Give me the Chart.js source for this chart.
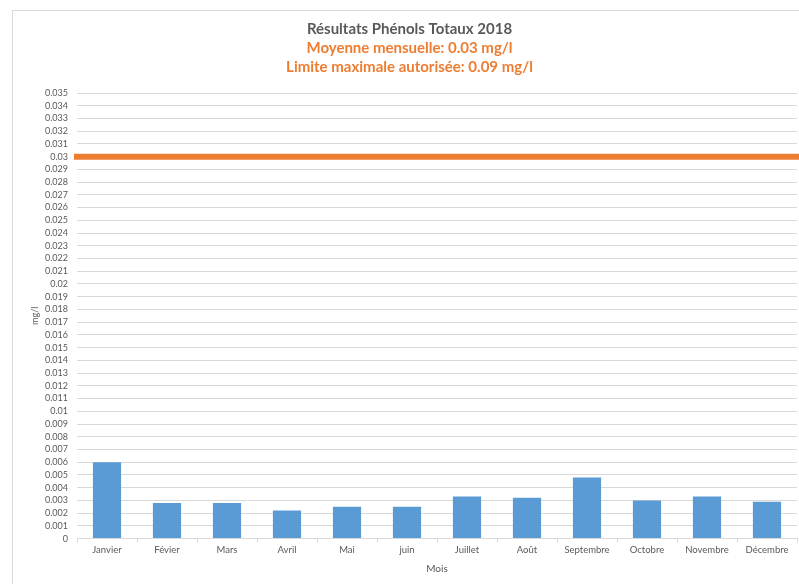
<!DOCTYPE html>
<html>
<head>
<meta charset="utf-8">
<script src="https://cdn.jsdelivr.net/npm/chart.js@4"></script>
<style>
  body { margin: 0; background: #fff; }
  #wrap { width: 799px; height: 584px; position: relative; }
</style>
</head>
<body>
<div id="wrap"><canvas id="phenolChart"></canvas></div>
<script>
const mois = ["Janvier", "Févier", "Mars", "Avril", "Mai", "juin", "Juillet", "Août", "Septembre", "Octobre", "Novembre", "Décembre"];
const resultats = [0.0060, 0.0028, 0.0028, 0.0022, 0.0025, 0.0025, 0.0033, 0.0032, 0.0048, 0.0030, 0.0033, 0.0029];
const moyenne = 0.03;
const titre = "Résultats Phénols Totaux 2018";
const sousTitres = ["Moyenne mensuelle: 0.03 mg/l", "Limite maximale autorisée: 0.09 mg/l"];

const fontName = "Lato, 'Open Sans', sans-serif";
const grey = "#595959";
const orange = "#ED7D31";

// cadre gris autour du graphique + ligne de moyenne
const decorPlugin = {
  id: "decor",
  beforeDraw: function (chart) {
    const ctx = chart.ctx;
    ctx.save();
    ctx.strokeStyle = "#d9d9d9";
    ctx.lineWidth = 1;
    ctx.strokeRect(12.5, 10.5, 820, 620);
    ctx.restore();
  },
  afterDatasetsDraw: function (chart) {
    const ctx = chart.ctx;
    const y = chart.scales.y.getPixelForValue(moyenne);
    ctx.save();
    ctx.strokeStyle = orange;
    ctx.lineWidth = 6;
    ctx.beginPath();
    ctx.moveTo(chart.chartArea.left - 3, y);
    ctx.lineTo(chart.width, y);
    ctx.stroke();
    ctx.restore();
  },
};

const ctx = document.getElementById("phenolChart").getContext("2d");
const phenolChart = new Chart(ctx, {
  type: "bar",
  data: {
    labels: mois,
    datasets: [
      {
        label: "Phénols totaux",
        data: resultats,
        backgroundColor: "#5B9BD5",
        barPercentage: 0.47,
        categoryPercentage: 1,
      },
    ],
  },
  options: {
    responsive: true,
    maintainAspectRatio: false,
    animation: false,
    layout: { padding: { left: 22, right: 2, top: 20, bottom: 9 } },
    plugins: {
      legend: { display: false },
      tooltip: { enabled: false },
      title: {
        display: true,
        text: titre,
        color: grey,
        font: { family: fontName, size: 15, weight: "bold" },
        padding: { top: 0, bottom: 0 },
      },
      subtitle: {
        display: true,
        text: sousTitres,
        color: orange,
        font: { family: fontName, size: 15, weight: "bold", lineHeight: 1.3 },
        padding: { top: 0, bottom: 16 },
      },
    },
    scales: {
      x: {
        grid: {
          display: true,
          drawOnChartArea: false,
          color: "#d9d9d9",
          tickLength: 4,
        },
        border: { display: true, color: "#d9d9d9" },
        ticks: { color: grey, font: { family: fontName, size: 9.5 }, padding: 2 },
        title: {
          display: true,
          text: "Mois",
          color: grey,
          font: { family: fontName, size: 10 },
          padding: { top: 5, bottom: 0 },
        },
      },
      y: {
        min: 0,
        max: 0.035,
        afterFit: function (scale) {
          scale.width = 55;
        },
        grid: { color: "#d9d9d9", drawTicks: false },
        border: { display: false },
        ticks: {
          stepSize: 0.001,
          autoSkip: false,
          color: grey,
          padding: 9,
          font: { family: fontName, size: 9 },
          callback: function (value) {
            return String(parseFloat(value.toFixed(3)));
          },
        },
        title: {
          display: true,
          text: "mg/l",
          color: grey,
          font: { family: fontName, size: 9 },
          padding: { top: 8, bottom: 0 },
        },
      },
    },
  },
  plugins: [decorPlugin],
});
</script>
</body>
</html>
